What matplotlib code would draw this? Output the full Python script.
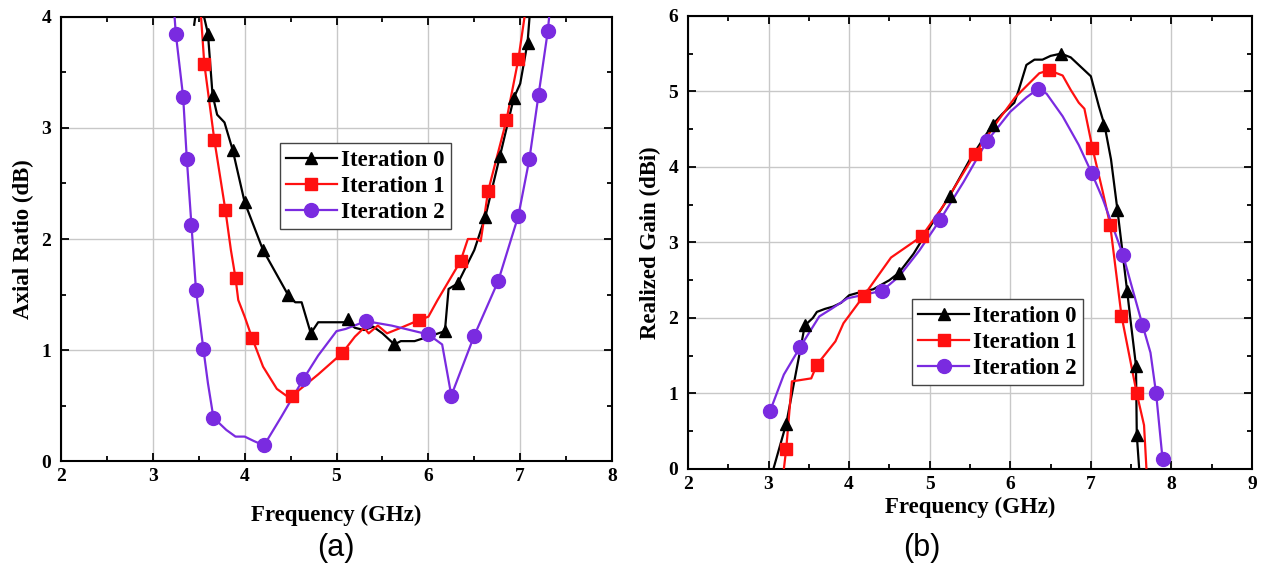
import numpy as np
import matplotlib
matplotlib.use('Agg')
import matplotlib.pyplot as plt
from matplotlib.lines import Line2D
from matplotlib.ticker import MultipleLocator

# ---------------- (a) Axial ratio ----------------
ar0_f = [3.45, 3.47, 3.50, 3.53, 3.60, 3.65, 3.70, 3.78, 3.87, 4.00, 4.20, 4.47, 4.55, 4.62,
         4.72, 4.80, 5.12, 5.20, 5.30, 5.40, 5.50, 5.63, 5.70, 5.85, 6.00, 6.18, 6.22, 6.32,
         6.50, 6.62, 6.78, 6.93, 7.00, 7.08, 7.13]
ar0 = [3.93, 4.05, 4.30, 4.10, 3.85, 3.30, 3.12, 3.05, 2.80, 2.33, 1.90, 1.50, 1.43, 1.43,
       1.15, 1.25, 1.25, 1.20, 1.18, 1.21, 1.15, 1.05, 1.08, 1.08, 1.12, 1.17, 1.55, 1.60,
       1.90, 2.20, 2.75, 3.27, 3.40, 3.77, 4.30]
ar0_mf = [3.60, 3.65, 3.87, 4.00, 4.20, 4.47, 4.72, 5.12, 5.63, 6.18, 6.32, 6.62, 6.78, 6.93, 7.08]
ar0_m = [3.85, 3.30, 2.80, 2.33, 1.90, 1.50, 1.15, 1.28, 1.05, 1.17, 1.60, 2.20, 2.75, 3.27, 3.77]

ar1_f = [3.50, 3.56, 3.67, 3.79, 3.85, 3.90, 3.93, 4.00, 4.08, 4.20, 4.35, 4.45, 4.52, 4.80,
         5.06, 5.20, 5.30, 5.35, 5.45, 5.55, 5.70, 5.90, 6.00, 6.10, 6.35, 6.43, 6.52, 6.57,
         6.65, 6.85, 6.98, 7.10]
ar1 = [4.30, 3.58, 2.89, 2.26, 1.90, 1.65, 1.45, 1.30, 1.11, 0.85, 0.65, 0.59, 0.59, 0.78,
       0.97, 1.12, 1.20, 1.15, 1.22, 1.15, 1.20, 1.27, 1.30, 1.45, 1.80, 2.00, 2.00, 1.98,
       2.43, 3.07, 3.62, 4.30]
ar1_mf = [3.56, 3.67, 3.79, 3.90, 4.08, 4.52, 5.06, 5.90, 6.35, 6.65, 6.85, 6.98]
ar1_m = [3.58, 2.89, 2.26, 1.65, 1.11, 0.59, 0.97, 1.27, 1.80, 2.43, 3.07, 3.62]

ar2_f = [3.21, 3.25, 3.33, 3.37, 3.42, 3.47, 3.55, 3.60, 3.66, 3.80, 3.90, 4.00, 4.10, 4.21,
         4.40, 4.64, 4.80, 5.00, 5.10, 5.32, 5.60, 6.00, 6.15, 6.25, 6.50, 6.76, 6.98, 7.10,
         7.20, 7.30, 7.35]
ar2 = [4.30, 3.85, 3.28, 2.72, 2.13, 1.54, 1.01, 0.70, 0.39, 0.28, 0.22, 0.22, 0.18, 0.14,
       0.40, 0.74, 0.95, 1.17, 1.19, 1.26, 1.22, 1.14, 1.05, 0.59, 1.13, 1.62, 2.21, 2.72,
       3.30, 3.87, 4.30]
ar2_mf = [3.25, 3.33, 3.37, 3.42, 3.47, 3.55, 3.66, 4.21, 4.64, 5.32, 6.00, 6.25, 6.50,
          6.76, 6.98, 7.10, 7.20, 7.30]
ar2_m = [3.85, 3.28, 2.72, 2.13, 1.54, 1.01, 0.39, 0.14, 0.74, 1.26, 1.14, 0.59, 1.13,
         1.62, 2.21, 2.72, 3.30, 3.87]

# ---------------- (b) Realized gain ----------------
g0_f = [3.06, 3.22, 3.38, 3.45, 3.55, 3.60, 3.70, 3.80, 3.90, 4.00, 4.10, 4.30, 4.50, 4.62,
        4.80, 5.00, 5.25, 5.50, 5.78, 5.90, 6.05, 6.10, 6.20, 6.30, 6.40, 6.50, 6.63, 6.75,
        6.90, 7.00, 7.05, 7.10, 7.17, 7.25, 7.33, 7.45, 7.50, 7.56, 7.57, 7.60]
g0 = [0.00, 0.60, 1.50, 1.90, 2.00, 2.08, 2.12, 2.15, 2.20, 2.30, 2.33, 2.38, 2.50, 2.60,
      2.85, 3.20, 3.62, 4.10, 4.56, 4.70, 4.85, 5.00, 5.35, 5.42, 5.42, 5.47, 5.50, 5.45,
      5.30, 5.20, 5.00, 4.80, 4.55, 4.10, 3.43, 2.36, 1.90, 1.37, 0.45, 0.00]
g0_mf = [3.22, 3.45, 4.62, 5.25, 5.78, 6.63, 7.15, 7.32, 7.45, 7.56, 7.57]
g0_m = [0.60, 1.90, 2.60, 3.62, 4.56, 5.50, 4.55, 3.43, 2.36, 1.37, 0.45]

g1_f = [3.19, 3.22, 3.29, 3.53, 3.60, 3.83, 3.93, 4.18, 4.52, 4.90, 5.16, 5.56, 5.86, 6.06,
        6.36, 6.48, 6.65, 6.75, 6.85, 6.92, 7.02, 7.15, 7.24, 7.38, 7.57, 7.66, 7.69]
g1 = [0.00, 0.27, 1.16, 1.20, 1.38, 1.69, 1.93, 2.29, 2.80, 3.08, 3.47, 4.17, 4.63, 4.92,
      5.24, 5.28, 5.21, 5.02, 4.85, 4.77, 4.25, 3.66, 3.23, 2.03, 1.00, 0.58, 0.00]
g1_mf = [3.22, 3.60, 4.18, 4.90, 5.56, 6.48, 7.02, 7.24, 7.38, 7.57]
g1_m = [0.27, 1.38, 2.29, 3.08, 4.17, 5.28, 4.25, 3.23, 2.03, 1.00]

g2_f = [3.02, 3.19, 3.39, 3.63, 3.78, 3.98, 4.41, 4.62, 4.87, 5.13, 5.42, 5.71, 6.00, 6.20,
        6.34, 6.45, 6.65, 6.85, 7.01, 7.15, 7.40, 7.64, 7.74, 7.81, 7.89]
g2 = [0.77, 1.25, 1.61, 2.02, 2.12, 2.26, 2.36, 2.55, 2.89, 3.30, 3.80, 4.34, 4.73, 4.92,
      5.03, 4.97, 4.67, 4.29, 3.92, 3.57, 2.83, 1.91, 1.54, 1.00, 0.13]
g2_mf = [3.02, 3.39, 4.41, 5.13, 5.71, 6.34, 7.01, 7.40, 7.64, 7.81, 7.89]
g2_m = [0.77, 1.61, 2.36, 3.30, 4.34, 5.03, 3.92, 2.83, 1.91, 1.00, 0.13]

labels = ['Iteration 0', 'Iteration 1', 'Iteration 2']
colores = ['black', '#ff1010', '#7a2be0']
marcadores = ['^', 's', 'o']
tam = [9, 8, 10]

serif_bold = {'family': 'Liberation Serif', 'weight': 'bold'}

fig = plt.figure(figsize=(12.63, 5.70), dpi=100)
ax1 = fig.add_axes([0.0483, 0.1912, 0.4363, 0.779])
ax2 = fig.add_axes([0.5447, 0.1772, 0.4466, 0.795])


def dibujar(ax, curvas):
    for (xf, yf, xm, ym), c, m, s in zip(curvas, colores, marcadores, tam):
        ax.plot(xf, yf, color=c, lw=1.6, zorder=3)
        ax.plot(xm, ym, ls='none', marker=m, ms=s, color=c, zorder=4)


def estilo(ax, xpad):
    ax.grid(True, which='major', color='#c8c8c8', lw=1.0)
    ax.set_axisbelow(True)
    ax.tick_params(which='both', direction='in', top=True, right=True, width=1.3)
    ax.tick_params(which='major', length=6)
    ax.tick_params(axis='x', which='major', pad=5)
    ax.tick_params(axis='y', which='major', pad=7)
    ax.tick_params(which='minor', length=3.5)
    for sp in ax.spines.values():
        sp.set_linewidth(1.5)
    for lab in ax.get_xticklabels() + ax.get_yticklabels():
        lab.set_fontproperties({'family': 'Liberation Serif', 'weight': 'bold', 'size': 14})
    ax.set_xlabel('Frequency (GHz)', fontdict={**serif_bold, 'size': 16.5}, labelpad=xpad)


def leyenda(ax, x, y):
    handles = [Line2D([], [], color=c, lw=1.6, marker=m, ms=s)
               for c, m, s in zip(colores, marcadores, tam)]
    leg = ax.legend(handles, labels, loc='upper left', bbox_to_anchor=(x, y),
                    prop={'family': 'Liberation Serif', 'weight': 'bold', 'size': 16.5},
                    fancybox=False, edgecolor='#444444', framealpha=1, handlelength=2.2,
                    handletextpad=0.2, borderpad=0.28, labelspacing=0.22, borderaxespad=0)
    leg.get_frame().set_linewidth(1.0)


# panel (a)
dibujar(ax1, [(ar0_f, ar0, ar0_mf, ar0_m), (ar1_f, ar1, ar1_mf, ar1_m), (ar2_f, ar2, ar2_mf, ar2_m)])
ax1.set_xlim(2, 8)
ax1.set_ylim(0, 4)
ax1.xaxis.set_major_locator(MultipleLocator(1))
ax1.xaxis.set_minor_locator(MultipleLocator(0.5))
ax1.yaxis.set_major_locator(MultipleLocator(1))
ax1.yaxis.set_minor_locator(MultipleLocator(0.5))
estilo(ax1, 14)
ax1.set_ylabel('Axial Ratio (dB)', fontdict={**serif_bold, 'size': 16.5}, labelpad=5)
leyenda(ax1, 0.397, 0.716)

# panel (b)
dibujar(ax2, [(g0_f, g0, g0_mf, g0_m), (g1_f, g1, g1_mf, g1_m), (g2_f, g2, g2_mf, g2_m)])
ax2.set_xlim(2, 9)
ax2.set_ylim(0, 6)
ax2.xaxis.set_major_locator(MultipleLocator(1))
ax2.xaxis.set_minor_locator(MultipleLocator(0.5))
ax2.yaxis.set_major_locator(MultipleLocator(1))
ax2.yaxis.set_minor_locator(MultipleLocator(0.5))
estilo(ax2, 3)
ax2.set_ylabel('Realized Gain (dBi)', fontdict={**serif_bold, 'size': 16.5}, labelpad=5)
leyenda(ax2, 0.397, 0.375)

# etiquetas de subfigura
fig.text(0.266, 1 - 548 / 570, '(a)', ha='center', va='center', fontsize=22, family='Liberation Sans')
fig.text(0.730, 1 - 548 / 570, '(b)', ha='center', va='center', fontsize=22, family='Liberation Sans')

plt.savefig('out.png', dpi=100)
